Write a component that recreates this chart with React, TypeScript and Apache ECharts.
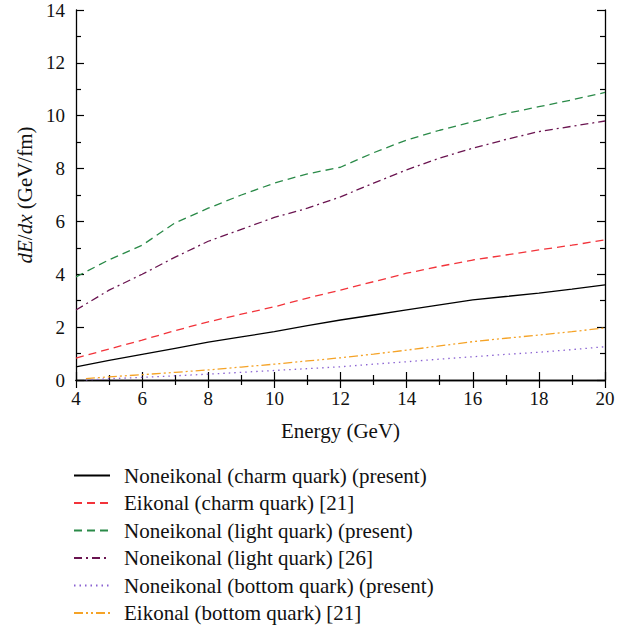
import React, { useEffect, useRef } from "react";
import * as echarts from "echarts";

const energy = [4, 5, 6, 7, 8, 9, 10, 11, 12, 13, 14, 15, 16, 17, 18, 19, 20];
const energyBottom = [4.3, 5, 6, 7, 8, 9, 10, 11, 12, 13, 14, 15, 16, 17, 18, 19, 20];

const charmNoneikonal = [0.5, 0.74, 0.97, 1.2, 1.43, 1.63, 1.83, 2.06, 2.27, 2.46, 2.65, 2.84, 3.03, 3.16, 3.29, 3.44, 3.6];
const charmEikonal = [0.83, 1.17, 1.51, 1.87, 2.2, 2.49, 2.77, 3.1, 3.4, 3.72, 4.04, 4.3, 4.54, 4.73, 4.92, 5.1, 5.3];
const lightNoneikonal = [3.9, 4.55, 5.1, 5.95, 6.5, 7.0, 7.45, 7.8, 8.05, 8.6, 9.08, 9.45, 9.77, 10.08, 10.34, 10.6, 10.88];
const lightRef26 = [2.65, 3.4, 4.0, 4.65, 5.25, 5.7, 6.15, 6.5, 6.93, 7.45, 7.95, 8.4, 8.77, 9.1, 9.4, 9.6, 9.8];
const bottomNoneikonal = [0.0, 0.05, 0.1, 0.16, 0.22, 0.29, 0.36, 0.43, 0.5, 0.6, 0.69, 0.79, 0.88, 0.97, 1.05, 1.15, 1.26];
const bottomEikonal = [0.05, 0.12, 0.2, 0.29, 0.38, 0.49, 0.6, 0.72, 0.84, 0.98, 1.13, 1.29, 1.45, 1.58, 1.7, 1.83, 1.97];

const seriesNames = [
  "Noneikonal (charm quark) (present)",
  "Eikonal (charm quark) [21]",
  "Noneikonal (light quark) (present)",
  "Noneikonal (light quark) [26]",
  "Noneikonal (bottom quark) (present)",
  "Eikonal (bottom quark) [21]",
];

const FONT = "'Liberation Serif', 'DejaVu Serif', serif";

function pairs(xs: number[], ys: number[]) {
  return ys.map((y, i) => [xs[i], y]);
}

export default function App() {
  const ref = useRef<HTMLDivElement>(null);
  useEffect(() => {
    if (!ref.current) return;
    const chart = echarts.init(ref.current, null, { renderer: "svg" });
    const mkLine = (name: string, xs: number[], ys: number[], color: string, type: any) => ({
      name,
      type: "line",
      data: pairs(xs, ys),
      symbol: "none",
      showSymbol: false,
      smooth: false,
      lineStyle: { color, width: 1.3, type },
      itemStyle: { color },
      z: 3,
    });
    const tickStyle = { color: "#000", width: 1.2 };
    chart.setOption({
      animation: false,
      backgroundColor: "#fff",
      grid: { left: 76, right: 26, top: 10, bottom: 245, containLabel: false },
      legend: {
        orient: "vertical",
        left: 73,
        top: 465,
        height: 160,
        padding: 0,
        itemWidth: 36,
        itemHeight: 20,
        itemGap: 6.5,
        itemStyle: { opacity: 0 },
        textStyle: { fontFamily: FONT, fontSize: 21, color: "#111", lineHeight: 20, padding: [0, 0, 0, 9] },
        data: seriesNames,
      },
      xAxis: [
        {
          type: "value",
          min: 4,
          max: 20,
          interval: 2,
          position: "bottom",
          name: "Energy (GeV)",
          nameLocation: "middle",
          nameGap: 40,
          nameTextStyle: { fontFamily: FONT, fontSize: 21, color: "#111" },
          axisLine: { show: true, lineStyle: { color: "#000", width: 1.3 } },
          axisTick: { show: true, inside: true, length: 8, lineStyle: tickStyle },
          minorTick: { show: true, splitNumber: 2, length: 5, lineStyle: tickStyle },
          axisLabel: { fontFamily: FONT, fontSize: 19, color: "#111", margin: 9 },
          splitLine: { show: false },
        },
        {
          type: "value",
          min: 4,
          max: 20,
          interval: 2,
          position: "top",
          axisLine: { show: true, lineStyle: { color: "#000", width: 1.3 } },
          axisTick: { show: true, inside: true, length: 8, lineStyle: tickStyle },
          minorTick: { show: true, splitNumber: 2, length: 5, lineStyle: tickStyle },
          axisLabel: { show: false },
          splitLine: { show: false },
        },
      ],
      yAxis: [
        {
          type: "value",
          min: 0,
          max: 14,
          interval: 2,
          position: "left",
          name: "{i|dE}/{i|dx} (GeV/fm)",
          nameLocation: "middle",
          nameGap: 39,
          nameRotate: 90,
          nameTextStyle: {
            fontFamily: FONT,
            fontSize: 21,
            color: "#111",
            rich: {
              i: { fontFamily: FONT, fontSize: 21, fontStyle: "italic", color: "#111" },
            },
          },
          axisLine: { show: true, lineStyle: { color: "#000", width: 1.3 } },
          axisTick: { show: true, inside: true, length: 8, lineStyle: tickStyle },
          minorTick: { show: true, splitNumber: 2, length: 5, lineStyle: tickStyle },
          axisLabel: { fontFamily: FONT, fontSize: 19, color: "#111", margin: 11 },
          splitLine: { show: false },
        },
        {
          type: "value",
          min: 0,
          max: 14,
          interval: 2,
          position: "right",
          axisLine: { show: true, lineStyle: { color: "#000", width: 1.3 } },
          axisTick: { show: true, inside: true, length: 8, lineStyle: tickStyle },
          minorTick: { show: true, splitNumber: 2, length: 5, lineStyle: tickStyle },
          axisLabel: { show: false },
          splitLine: { show: false },
        },
      ],
      series: [
        mkLine(seriesNames[0], energy, charmNoneikonal, "#000000", "solid"),
        mkLine(seriesNames[1], energy, charmEikonal, "#f2333a", [8, 5]),
        mkLine(seriesNames[2], energy, lightNoneikonal, "#2a8a48", [8, 5]),
        mkLine(seriesNames[3], energy, lightRef26, "#6a1450", [8, 4, 2, 4]),
        mkLine(seriesNames[4], energyBottom, bottomNoneikonal, "#8a62d2", [1.5, 4]),
        mkLine(seriesNames[5], energyBottom, bottomEikonal, "#f5a327", [9, 3, 2, 3, 2, 3]),
      ],
    });
    return () => chart.dispose();
  }, []);
  return <div ref={ref} style={{ width: 631, height: 625, position: "absolute", left: 0, top: 0 }} />;
}
